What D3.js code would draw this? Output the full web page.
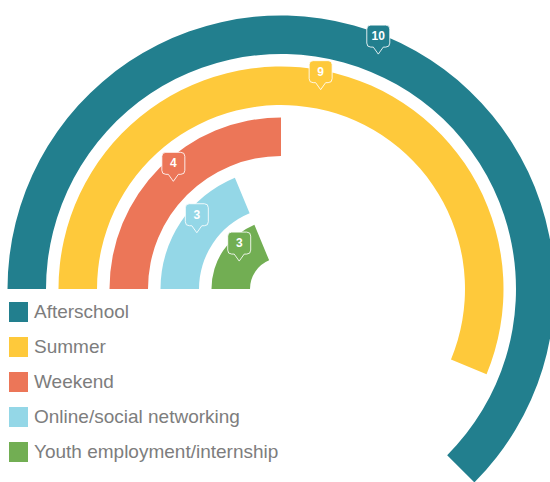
<!DOCTYPE html>
<html>
<head>
<meta charset="utf-8">
<script src="https://cdn.jsdelivr.net/npm/d3@7"></script>
<style>
  html, body { margin: 0; padding: 0; background: #fff; }
  svg { display: block; }
</style>
</head>
<body>
<svg id="chart" width="550" height="482"></svg>
<script>
const categories = ["Afterschool", "Summer", "Weekend", "Online/social networking", "Youth employment/internship"];
const values = [10, 9, 4, 3, 3];
const colors = ["#227f8e", "#fec93b", "#ec7658", "#94d7e7", "#72ae53"];

const W = 550, H = 482;
const cx = 281, cy = 289;
const svg = d3.select("#chart");

const rScale = d3.scaleBand()
  .domain(categories)
  .range([273.5, 31])
  .paddingInner(0.245)
  .paddingOuter(0);
const bw = rScale.bandwidth();

const aScale = d3.scaleLinear().domain([0, 10]).range([0, 1.25 * Math.PI]);
const start = -Math.PI / 2;

const g = svg.append("g").attr("transform", `translate(${cx},${cy})`);

const arc = d3.arc();
g.selectAll("path.bar")
  .data(categories)
  .join("path")
  .attr("class", "bar")
  .attr("fill", (d, i) => colors[i])
  .attr("d", (d, i) => arc({
    innerRadius: rScale(d),
    outerRadius: rScale(d) + bw,
    startAngle: start,
    endAngle: start + aScale(values[i])
  }));

// pin labels at mid-angle of each bar
function pinPath(tx, ty) {
  const w = 23, h = 22, p = 7, r = 4, pw = 5;
  const x0 = tx - w / 2, x1 = tx + w / 2, y1 = ty - p, y0 = y1 - h;
  return `M${x0 + r},${y0} H${x1 - r} Q${x1},${y0} ${x1},${y0 + r} V${y1 - r} Q${x1},${y1} ${x1 - r},${y1} H${tx + pw} L${tx},${ty} L${tx - pw},${y1} H${x0 + r} Q${x0},${y1} ${x0},${y1 - r} V${y0 + r} Q${x0},${y0} ${x0 + r},${y0} Z`;
}

g.selectAll("g.pin")
  .data(categories)
  .join("g")
  .attr("class", "pin")
  .each(function(d, i) {
    const theta = start + aScale(values[i]) / 2;
    const rc = rScale(d) + bw / 2;
    const tx = rc * Math.sin(theta), ty = -rc * Math.cos(theta);
    const sel = d3.select(this);
    sel.append("path")
      .attr("d", pinPath(tx, ty))
      .attr("fill", colors[i])
      .attr("stroke", "#ffffff")
      .attr("stroke-opacity", 0.85)
      .attr("stroke-width", 1);
    sel.append("text")
      .attr("x", tx)
      .attr("y", ty - 7 - 11)
      .attr("text-anchor", "middle")
      .attr("dominant-baseline", "central")
      .attr("font-family", "'Liberation Sans', Arial, sans-serif")
      .attr("font-weight", "bold")
      .attr("font-size", 12)
      .attr("fill", "#ffffff")
      .text(values[i]);
  });

// legend
const legend = svg.append("g").attr("transform", "translate(9,302)");
const items = legend.selectAll("g.item")
  .data(categories)
  .join("g")
  .attr("class", "item")
  .attr("transform", (d, i) => `translate(0,${i * 35})`);
items.append("rect")
  .attr("width", 19)
  .attr("height", 20)
  .attr("fill", (d, i) => colors[i]);
items.append("text")
  .attr("x", 25)
  .attr("y", 16)
  .attr("font-family", "'Liberation Sans', Arial, sans-serif")
  .attr("font-size", 19)
  .attr("fill", "#7d7d7d")
  .text(d => d);
</script>
</body>
</html>
